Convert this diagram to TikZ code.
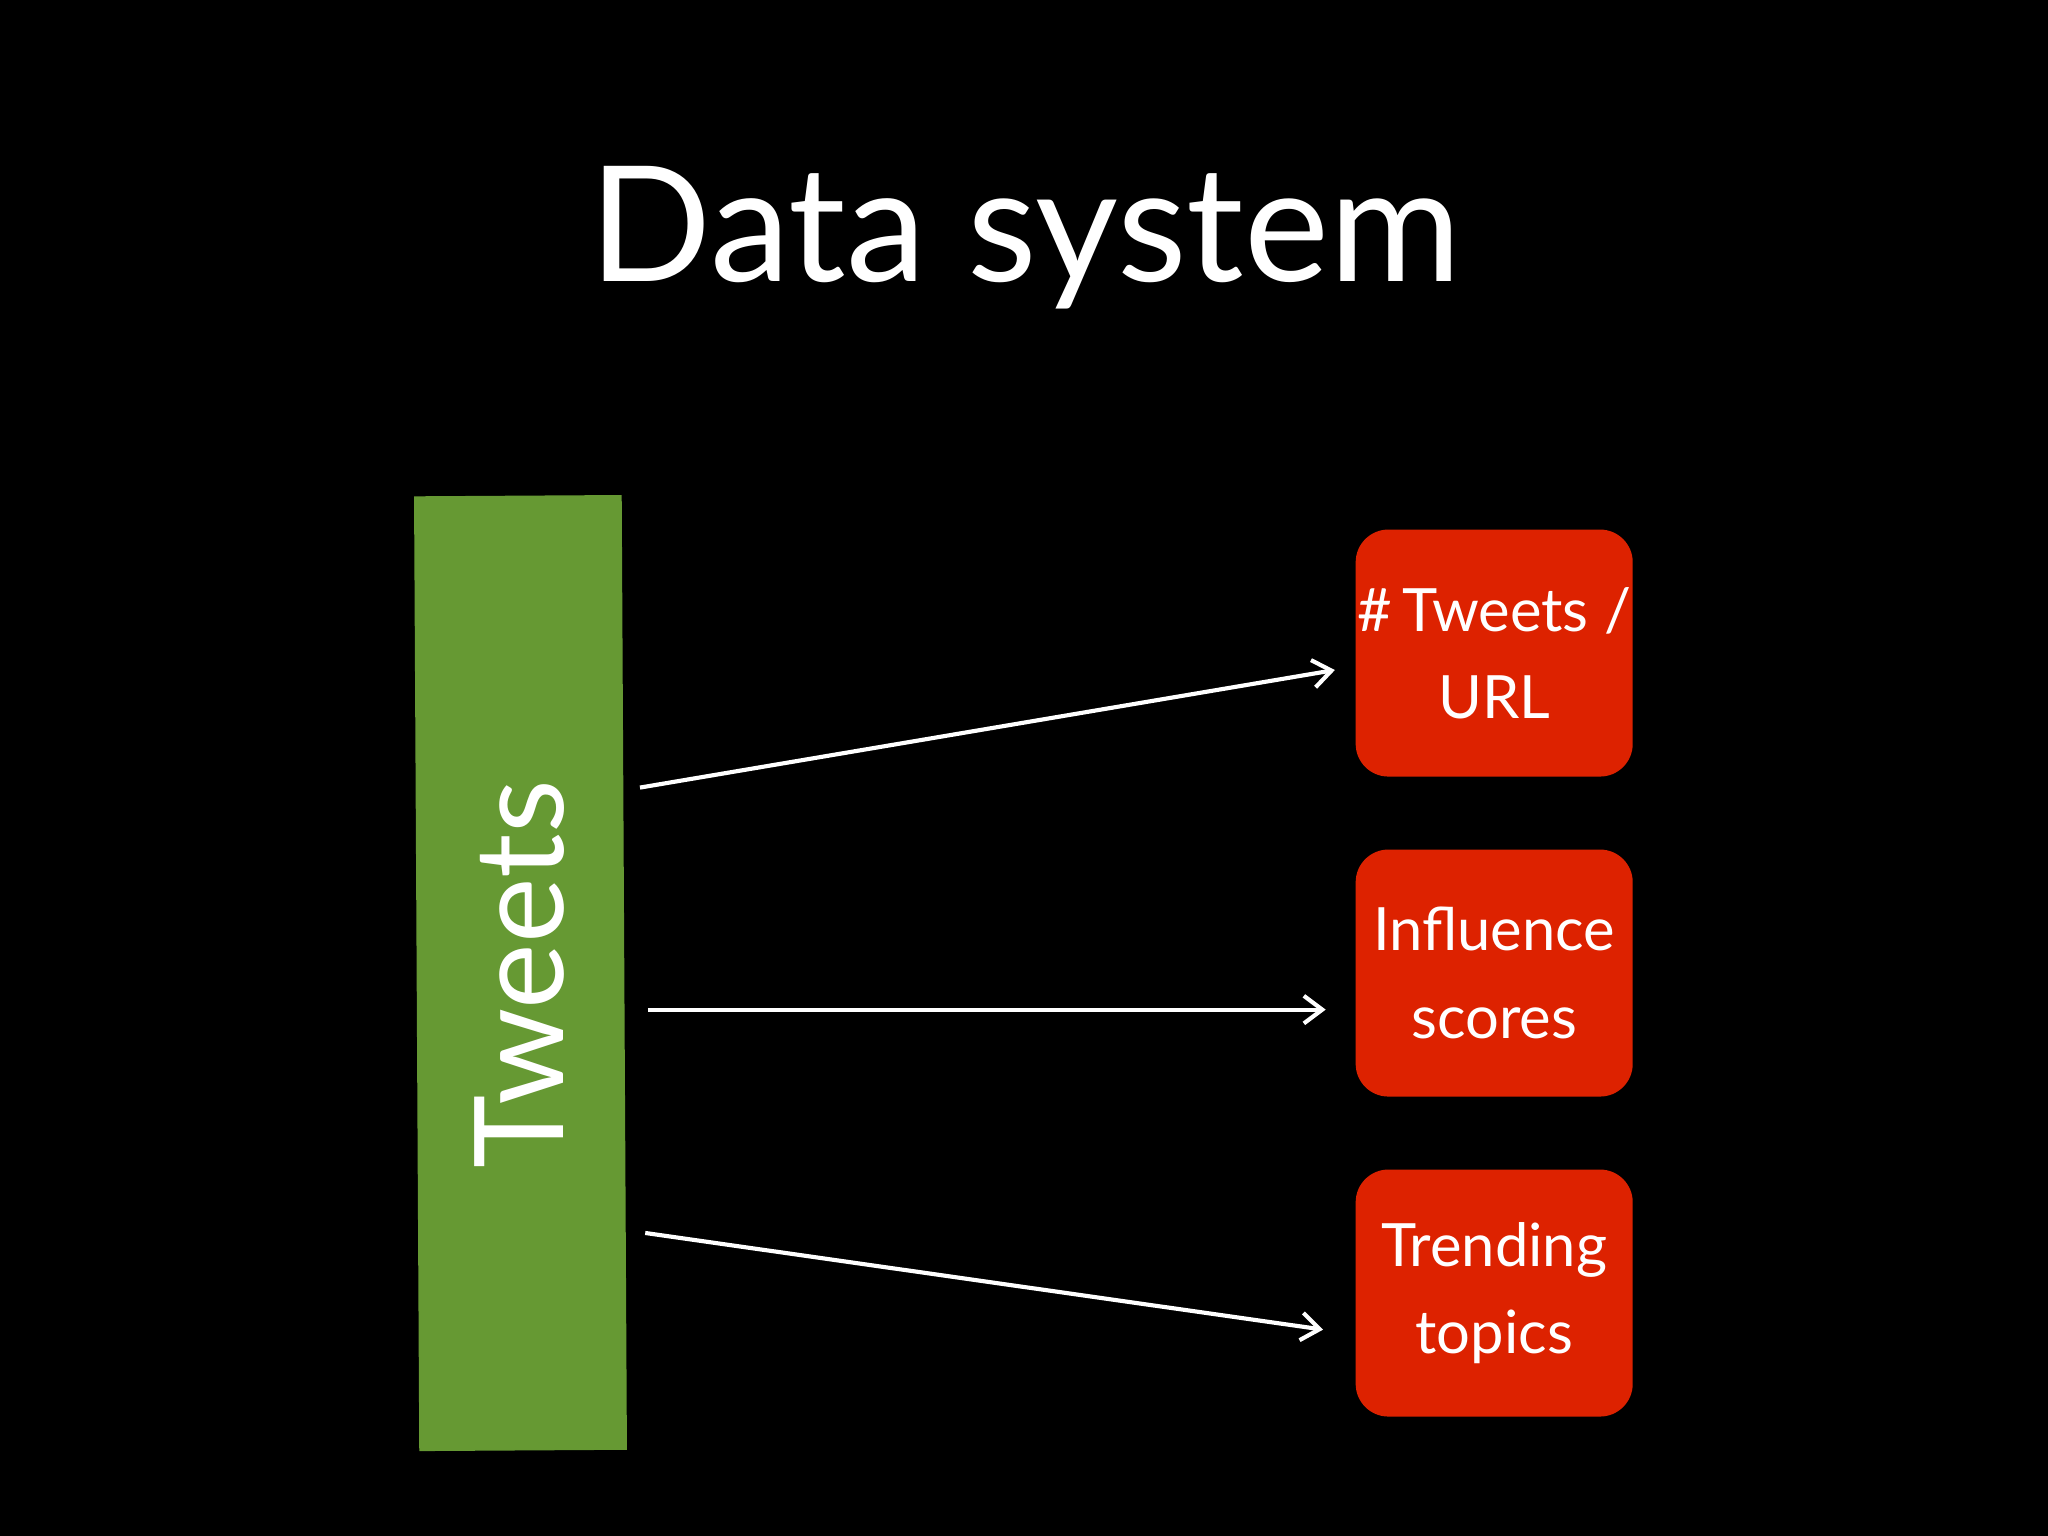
\documentclass[tikz,border=0pt]{standalone}
\usepackage{fontspec}
\setmainfont{Lato}
\usetikzlibrary{arrows.meta}
\definecolor{tgreen}{HTML}{669933}
\definecolor{tred}{HTML}{DD2200}
\begin{document}
\begin{tikzpicture}[x=0.01cm,y=-0.01cm,
  box/.style={fill=tred,rounded corners=0.25cm,minimum width=2.12cm,minimum height=1.89cm,text=white,align=center,font=\fontsize{13}{19}\selectfont,inner sep=0pt},
  arr/.style={white,line width=0.9pt,-{Straight Barb[length=4pt,width=6pt]}}]
\fill[black] (0,0) rectangle (1568,1176);
\useasboundingbox (0,0) rectangle (1568,1176);
\node[text=white,font=\fontsize{35}{40}\selectfont] (title) at (785,182) {Data system};
\fill[tgreen] (317,380) -- (476,379) -- (480,1110) -- (321,1111) -- cycle;
\node[text=white,rotate=90,font=\fontsize{27}{30}\selectfont] (tw) at (398,746) {Tweets};
\node[box] (b1) at (1144,500) {\#\,Tweets /\\URL};
\node[box] (b2) at (1144,745) {Influence\\scores};
\node[box] (b3) at (1144,990) {Trending\\topics};
\coordinate (s1) at (490,603);
\coordinate (s2) at (496,773);
\coordinate (s3) at (494,944);
\coordinate (e1) at (1022,513);
\coordinate (e2) at (1015,773);
\coordinate (e3) at (1013,1018);
\draw[arr] (s1) -- (e1);
\draw[arr] (s2) -- (e2);
\draw[arr] (s3) -- (e3);
\end{tikzpicture}
\end{document}
